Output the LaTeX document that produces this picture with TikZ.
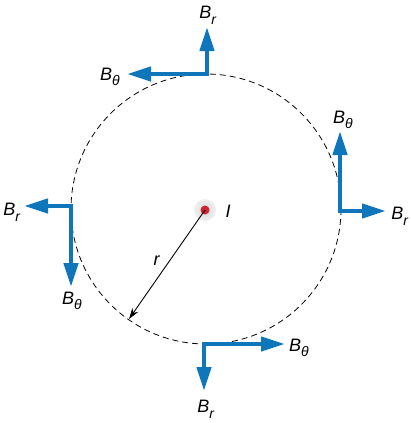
\documentclass[tikz,border=0pt]{standalone}
\usepackage{fontspec}
\setmainfont{Liberation Sans}
\usetikzlibrary{arrows.meta}
\definecolor{fieldblue}{RGB}{16,118,188}
\definecolor{dotred}{RGB}{205,40,50}
\newcommand{\Bsub}[1]{\textit{B}\raisebox{-0.6ex}{\fontsize{14}{14}\selectfont\textit{#1}}}
\tikzset{
  fieldvec/.style={draw=fieldblue, line width=4.2pt, line cap=rect,
    -{Triangle[length=24pt,width=14pt]}},
  lbl/.style={inner sep=0pt, font=\fontsize{18}{20}\selectfont},
}
\begin{document}
\begin{tikzpicture}[x=1pt,y=-1pt]
\useasboundingbox (0,0) rectangle (410,423);
% dashed circle
\draw[black, line width=0.8pt, dash pattern=on 6pt off 4pt] (206,209) circle (135);
% current
\shade[inner color=gray!30, outer color=gray!12] (205,210) circle (11);
\node[circle, fill=dotred, minimum size=9pt, inner sep=0pt] (I) at (205,210) {};
\node[lbl] (Ilbl) at (228,211) {\textit{I}};
% radius
\coordinate (rend) at (129,319);
\draw[black, line width=0.9pt, -{Stealth[length=11pt,width=7pt]}] (I.center) -- (rend);
\node[lbl] (rlbl) at (157,261) {\textit{r}};
% top
\coordinate (ct) at (207,74);
\coordinate (ctu) at (207,27);
\coordinate (ctl) at (127,74);
\draw[fieldvec] (ct) -- (ctu);
\draw[fieldvec] (ct) -- (ctl);
\node[lbl] (tbr) at (208,15) {\Bsub{r}};
\node[lbl] (tbt) at (110,77) {\Bsub{θ}};
% right
\coordinate (cr) at (340,211);
\coordinate (cru) at (340,131);
\coordinate (crr) at (386,211);
\draw[fieldvec] (cr) -- (cru);
\draw[fieldvec] (cr) -- (crr);
\node[lbl] (rbt) at (343,120) {\Bsub{θ}};
\node[lbl] (rbr) at (400,216) {\Bsub{r}};
% left
\coordinate (cl) at (71,206);
\coordinate (cll) at (24,206);
\coordinate (cld) at (71,287);
\draw[fieldvec] (cl) -- (cll);
\draw[fieldvec] (cl) -- (cld);
\node[lbl] (lbr) at (12,212) {\Bsub{r}};
\node[lbl] (lbt) at (72,301) {\Bsub{θ}};
% bottom
\coordinate (cb) at (204,344);
\coordinate (cbr) at (285,344);
\coordinate (cbd) at (204,391);
\draw[fieldvec] (cb) -- (cbr);
\draw[fieldvec] (cb) -- (cbd);
\node[lbl] (bbt) at (299,348) {\Bsub{θ}};
\node[lbl] (bbr) at (206,409) {\Bsub{r}};
\end{tikzpicture}
\end{document}
